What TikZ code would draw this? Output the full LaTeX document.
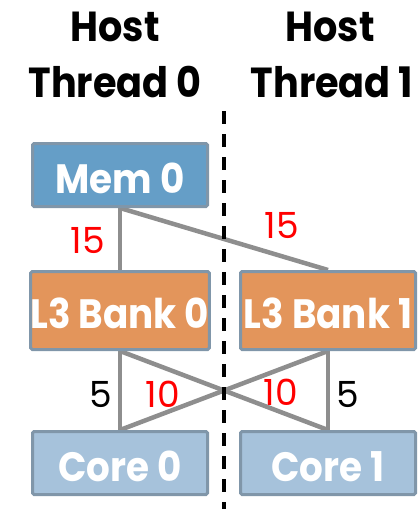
\documentclass[tikz,border=0pt]{standalone}
\usepackage{fontspec}
\setmainfont{Poppins}
\newfontfamily\narrowbold{Poppins}[FakeStretch=0.91]
\usetikzlibrary{backgrounds}
\definecolor{memblue}{HTML}{659EC7}
\definecolor{bankorange}{HTML}{E3955B}
\definecolor{coreblue}{HTML}{A6C2DB}
\definecolor{boxedge}{HTML}{8096A9}
\definecolor{linkgray}{HTML}{8E8E8E}
\tikzset{
  x=1pt, y=-1pt,
  unit/.style={draw=boxedge, line width=3pt, rounded corners=1.5pt,
    inner sep=0pt, text=white,
    font=\narrowbold\fontsize{41}{41}\selectfont\bfseries,
    text height=36pt, text depth=0pt, minimum width=175pt},
  memunit/.style={unit, fill=memblue, minimum height=63pt},
  bankunit/.style={unit, fill=bankorange, minimum height=78pt},
  coreunit/.style={unit, fill=coreblue, minimum height=63pt},
  link/.style={draw=linkgray, line width=4.5pt},
  header/.style={anchor=base, font=\narrowbold\fontsize{42}{42}\selectfont\bfseries},
  lat/.style={anchor=base, font=\fontsize{36}{36}\selectfont},
  remote/.style={lat, text=red},
  local/.style={lat, text=black}
}
\begin{document}
\begin{tikzpicture}
  \useasboundingbox (0,0) rectangle (419,509);

  % thread headers
  \node[header] (h0a) at (115,41) {Host};
  \node[header] (h0b) at (115,97) {Thread 0};
  \node[header] (h1a) at (330,41) {Host};
  \node[header] (h1b) at (332,97) {Thread 1};

  % memory hierarchy
  \node[memunit]  (mem0)  at (120,175)   {Mem 0};
  \node[bankunit] (bank0) at (120,310.5) {L3 Bank 0};
  \node[bankunit] (bank1) at (328,310.5) {L3 Bank 1};
  \node[coreunit] (core0) at (120,463)   {Core 0};
  \node[coreunit] (core1) at (328,463)   {Core 1};

  % thread boundary
  \coordinate (split top) at (224,111);
  \coordinate (split bottom) at (224,509);
  \draw[line width=3.5pt, dash pattern=on 13pt off 10pt] (split top) -- (split bottom);

  % links with their latencies
  \begin{pgfonlayer}{background}
    \draw[link] (mem0.south) -- (bank0.north);
    \draw[link] (mem0.south) -- (bank1.north);
    \draw[link] (bank0.south) -- (core0.north);
    \draw[link] (bank0.south) -- (core1.north);
    \draw[link] (bank1.south) -- (core0.north);
    \draw[link] (bank1.south) -- (core1.north);
  \end{pgfonlayer}

  \node[remote] (l15a) at (88,253)  {15};
  \node[remote] (l15b) at (282,238) {15};
  \node[local]  (l5a)  at (101,407) {5};
  \node[remote] (l10a) at (163,407) {10};
  \node[remote] (l10b) at (281,405) {10};
  \node[local]  (l5b)  at (348,407) {5};
\end{tikzpicture}
\end{document}
